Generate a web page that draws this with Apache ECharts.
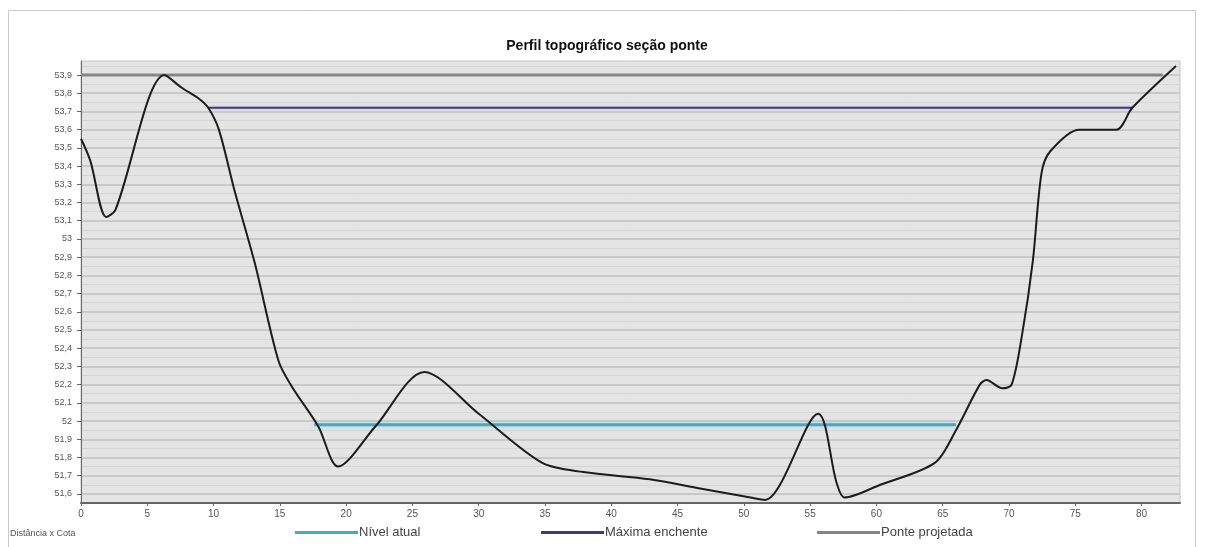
<!DOCTYPE html>
<html>
<head>
<meta charset="utf-8">
<script src="https://cdn.jsdelivr.net/npm/echarts@6/dist/echarts.min.js"></script>
<style>
html,body{margin:0;padding:0;background:#fff;}
#c{width:1214px;height:547px;}
</style>
</head>
<body>
<div id="c"></div>
<script>
// ---- Data ----
const distancias = [0, 0.7, 1.9, 2.6, 6.3, 7.6, 8.9, 9.6, 10.4, 11.6, 13.1, 14.9, 15.9, 17.9, 19.4, 22.2, 25.9, 30.0, 34.8, 37.9, 42.9, 46.7, 50.5, 51.6, 55.6, 57.0, 57.6, 60.3, 64.4, 66.0, 67.8, 68.3, 69.5, 70.2, 71.0, 71.8, 72.45, 73.1, 75.3, 78.1, 79.3, 82.6];
const cotas      = [53.55, 53.43, 53.12, 53.16, 53.90, 53.83, 53.77, 53.72, 53.60, 53.26, 52.87, 52.33, 52.19, 51.97, 51.75, 51.97, 52.27, 52.04, 51.77, 51.72, 51.68, 51.63, 51.58, 51.567, 52.04, 51.66, 51.58, 51.65, 51.77, 51.95, 52.20, 52.225, 52.18, 52.20, 52.48, 52.88, 53.36, 53.48, 53.60, 53.60, 53.72, 53.95];

const nivelAtualX = [17.6, 66.0];
const nivelAtualY = 51.98;
const maximaEnchenteX = [9.6, 79.3];
const maximaEnchenteY = 53.72;
const ponteProjetadaX = [0, 81.6];
const ponteProjetadaY = 53.9;

const xTicks = [0, 5, 10, 15, 20, 25, 30, 35, 40, 45, 50, 55, 60, 65, 70, 75, 80];
const yTicks = [51.6, 51.7, 51.8, 51.9, 52.0, 52.1, 52.2, 52.3, 52.4, 52.5, 52.6, 52.7, 52.8, 52.9, 53.0, 53.1, 53.2, 53.3, 53.4, 53.5, 53.6, 53.7, 53.8, 53.9];
const yMinorLines = [51.55, 51.65, 51.75, 51.85, 51.95, 52.05, 52.15, 52.25, 52.35, 52.45, 52.55, 52.65, 52.75, 52.85, 52.95, 53.05, 53.15, 53.25, 53.35, 53.45, 53.55, 53.65, 53.75, 53.85, 53.95];

const yMin = 51.55, yMax = 53.977, xMin = 0, xMax = 82.9;

// ---- Build ----
const perfil = distancias.map((d, i) => [d, cotas[i]]);
const nivel = nivelAtualX.map(x => [x, nivelAtualY]);
const maxima = maximaEnchenteX.map(x => [x, maximaEnchenteY]);
const ponte = ponteProjetadaX.map(x => [x, ponteProjetadaY]);

const fmtY = v => (Math.round(v * 10) / 10).toString().replace('.', ',');
const FONT = 'Liberation Sans, Arial, sans-serif';

const chart = echarts.init(document.getElementById('c'));
const legendBase = {
  orient: 'horizontal', top: 526, icon: 'rect', itemWidth: 63, itemHeight: 3,
  textStyle: { fontFamily: FONT, fontSize: 13, color: '#444', padding: [0, 0, 0, -4] },
  padding: 0
};
chart.setOption({
  animation: false,
  backgroundColor: '#fff',
  title: {
    text: 'Perfil topográfico seção ponte',
    left: 'center', top: 34,
    textStyle: { fontFamily: FONT, fontSize: 14, fontWeight: 'bold', color: '#111' }
  },
  legend: [
    Object.assign({}, legendBase, { left: 295, data: ['Nível atual'] }),
    Object.assign({}, legendBase, { left: 541, data: ['Máxima enchente'] }),
    Object.assign({}, legendBase, { left: 817, data: ['Ponte projetada'] })
  ],
  graphic: [
    { type: 'rect', shape: { x: 8.5, y: 10.5, width: 1187, height: 540 }, style: { fill: 'none', stroke: '#c8c8c8', lineWidth: 1 }, silent: true },
    { type: 'text', left: 10, top: 529, style: { text: 'Distância x Cota', fontSize: 9, fill: '#555', fontFamily: FONT } }
  ],
  grid: {
    left: 81, right: 34, top: 61, bottom: 44,
    show: true, backgroundColor: '#e4e4e4', borderColor: '#c4c4c4', borderWidth: 1
  },
  xAxis: {
    type: 'value', min: xMin, max: xMax,
    axisLine: { show: true, lineStyle: { color: '#666', width: 2 } },
    axisTick: { show: true, length: 3, customValues: xTicks, lineStyle: { color: '#666' } },
    axisLabel: { customValues: xTicks, fontSize: 10, color: '#555', margin: 6, fontFamily: FONT },
    splitLine: { show: false }
  },
  yAxis: [
    {
      type: 'value', min: yMin, max: yMax,
      axisLine: { show: true, lineStyle: { color: '#666', width: 1 } },
      axisTick: { show: true, length: 4, customValues: yTicks, lineStyle: { color: '#666' } },
      axisLabel: { customValues: yTicks, formatter: fmtY, fontSize: 9, color: '#555', margin: 9, fontFamily: FONT },
      splitLine: { show: true, lineStyle: { color: '#c9c9c9', width: 2 } }
    },
    {
      type: 'value', min: yMin, max: yMax, position: 'left',
      axisLine: { show: false },
      axisTick: { show: false, customValues: yMinorLines },
      axisLabel: { show: false, customValues: yMinorLines },
      splitLine: { show: true, lineStyle: { color: '#d5d5d5', width: 1 } }
    }
  ],
  series: [
    {
      name: 'Ponte projetada', type: 'line', data: ponte, symbol: 'none',
      lineStyle: { color: '#858585', width: 3 }, itemStyle: { color: '#858585' }, z: 2
    },
    {
      name: 'Máxima enchente', type: 'line', data: maxima, symbol: 'none',
      lineStyle: { color: '#3d3b78', width: 2, shadowColor: 'rgba(160,150,230,0.6)', shadowBlur: 3 }, itemStyle: { color: '#3d3b78' }, z: 2
    },
    {
      name: 'Nível atual', type: 'line', data: nivel, symbol: 'none',
      lineStyle: { color: '#46aabd', width: 3, shadowColor: 'rgba(120,210,240,0.7)', shadowBlur: 4 }, itemStyle: { color: '#46aabd' }, z: 2
    },
    {
      name: 'Perfil', type: 'line', data: perfil, symbol: 'none', smooth: 0.3,
      lineStyle: { color: '#1c1c1c', width: 2 }, z: 3
    }
  ]
});
</script>
</body>
</html>
